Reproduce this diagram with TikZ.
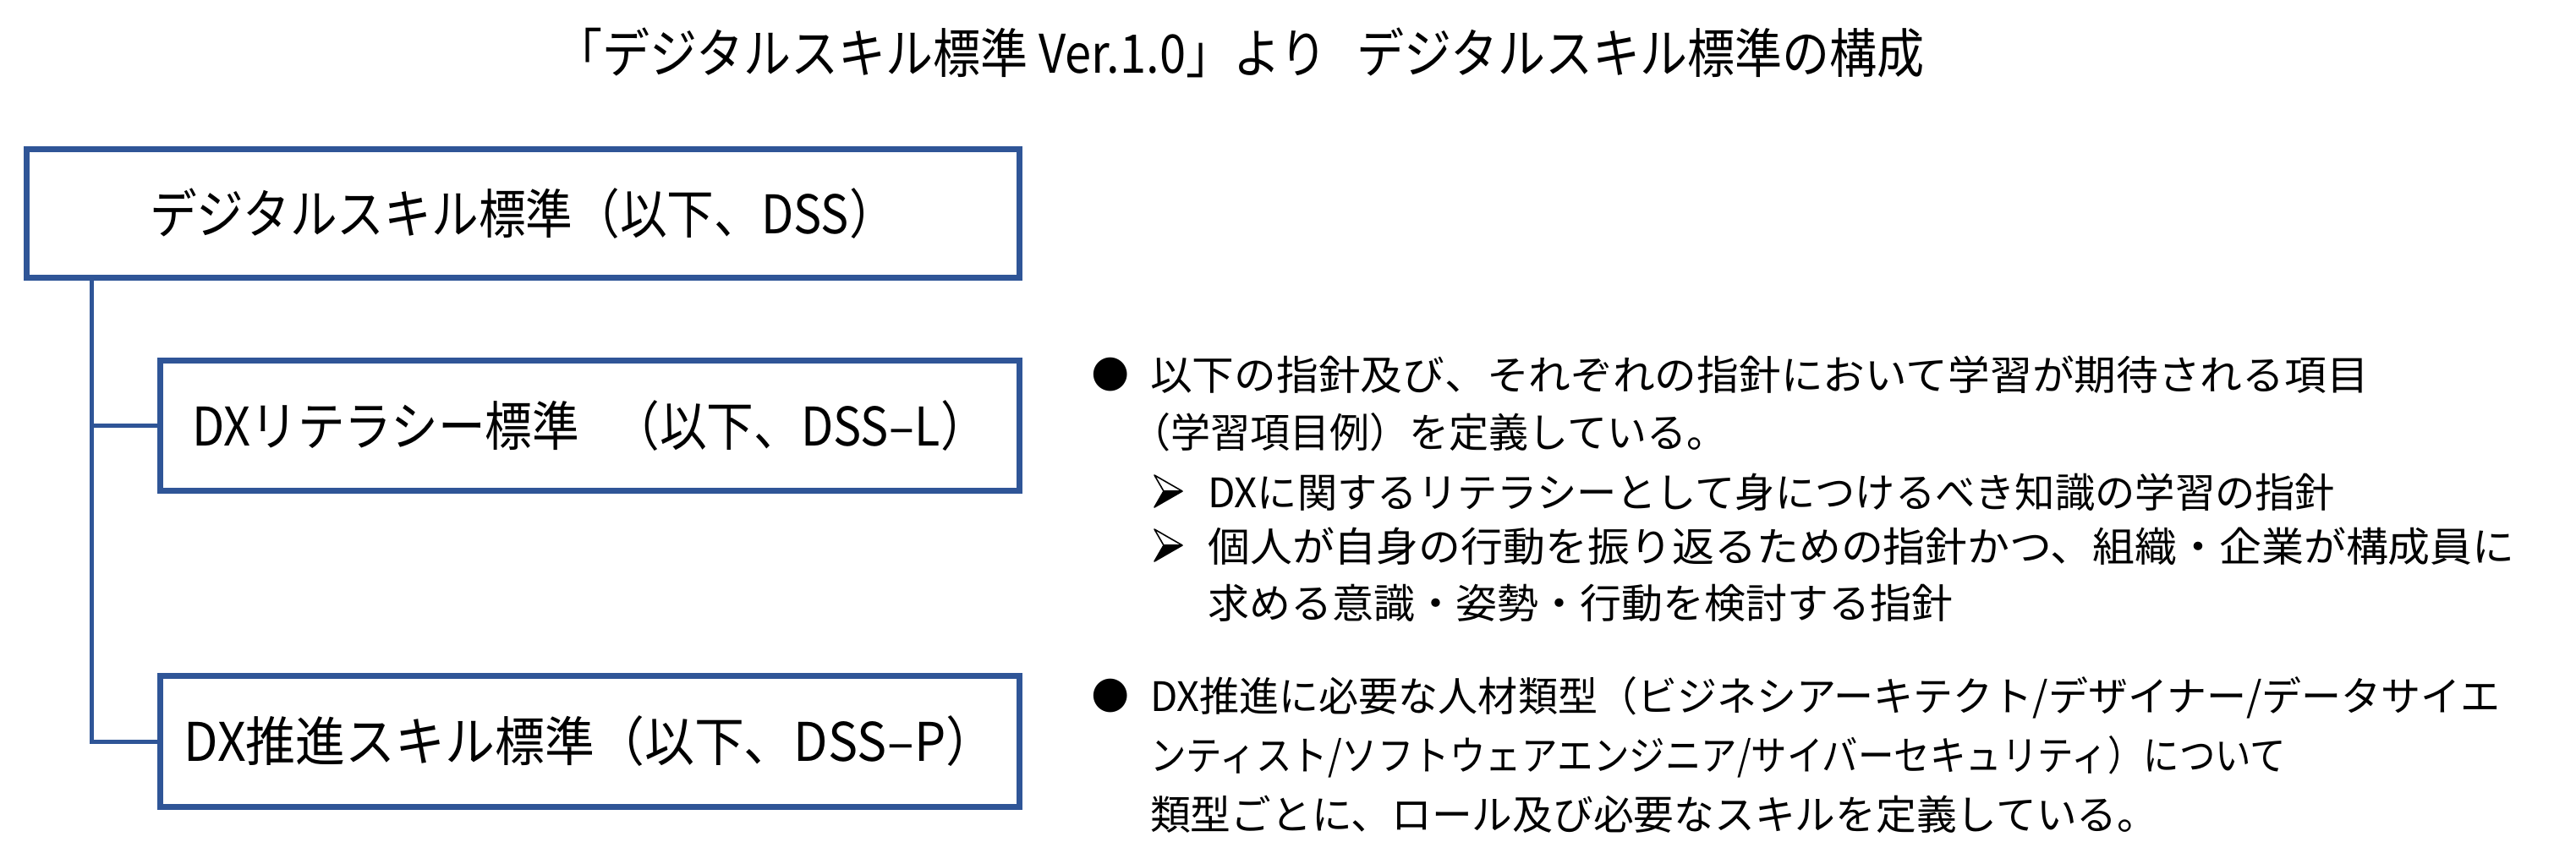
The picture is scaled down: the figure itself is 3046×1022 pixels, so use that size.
\documentclass[tikz,border=0pt]{standalone}
\usepackage{fontspec}
\usepackage{graphicx}
\setmainfont{Noto Sans CJK JP}
\newfontfamily\jpfont{Noto Sans CJK JP}
\newfontfamily\uifont[FakeStretch=0.85]{Noto Sans CJK JP}
\newfontfamily\titlefont[FakeStretch=0.89]{Noto Sans CJK JP}
\newfontfamily\symfont{DejaVu Sans}
\definecolor{boxblue}{HTML}{2F5597}
\tikzset{
  stdbox/.style={draw=boxblue, line width=7pt, fill=white, rectangle, inner sep=0pt,
    font=\uifont\fontsize{63}{70}\selectfont},
  conn/.style={draw=boxblue, line width=5pt},
  titletext/.style={font=\titlefont\fontsize{63}{70}\selectfont, inner sep=0pt},
  bodyline/.style={font=\jpfont\fontsize{48}{60}\selectfont, inner sep=0pt, anchor=base west},
  bulletmark/.style={font=\symfont\fontsize{52}{60}\selectfont, inner sep=0pt},
  subarrow/.pic={
    \filldraw[fill=white, draw=black, line width=1.6pt, line join=round]
      (0,-38) -- (33,-19) -- (11,-19) -- cycle;
    \fill[black] (11,-19) -- (33,-19) -- (0,0) -- cycle;
    \draw[black, line width=1.6pt, line join=round] (11,-19) -- (0,0) -- (33,-19);
  }
}
\begin{document}
\begin{tikzpicture}[x=1pt,y=-1pt]
\useasboundingbox (0,0) rectangle (3046,1022);
\fill[white] (0,0) rectangle (3046,1022);

% title
\node[titletext] (title) at (1466,62) {「デジタルスキル標準 Ver.1.0」より\hspace{0.55em}デジタルスキル標準の構成};

% boxes
\node[stdbox, minimum width=1174pt, minimum height=152pt] (b1) at (618.5,252.5) {\scalebox{1.04}[1]{デジタルスキル標準（以下、DSS）}};
\node[stdbox, minimum width=1016pt, minimum height=154pt] (b2) at (697.5,503.5) {\scalebox{1.04}[1]{DXリテラシー標準\hspace{0.6em}（以下、DSS–L）}};
\node[stdbox, minimum width=1016pt, minimum height=155pt] (b3) at (697.5,877) {\scalebox{1.1}[1]{DX推進スキル標準（以下、DSS–P）}};

% connectors
\coordinate (spine) at (108,0);
\draw[conn] (b1.south -| spine) |- (b3.west);
\draw[conn] (b1.south -| spine) |- (b2.west);

% right texts, block 1
\node[bulletmark] (bul1) at (1313,443) {●};
\node[bodyline] (t1a) at (1360,461) {\scalebox{1.036}[1]{以下の指針及び、それぞれの指針において学習が期待される項目}};
\node[bodyline] (t1b) at (1337,529) {\scalebox{0.98}[1]{（学習項目例）を定義している。}};
\pic (ar1) at (1365,600) {subarrow};
\node[bodyline] (s1) at (1428,600) {\scalebox{0.985}[1]{DXに関するリテラシーとして身につけるべき知識の学習の指針}};
\pic (ar2) at (1365,664) {subarrow};
\node[bodyline] (s2a) at (1428,664) {\scalebox{1.04}[1]{個人が自身の行動を振り返るための指針かつ、組織・企業が構成員に}};
\node[bodyline] (s2b) at (1428,731) {\scalebox{1.02}[1]{求める意識・姿勢・行動を検討する指針}};

% right texts, block 2
\node[bulletmark] (bul2) at (1313,823) {●};
\node[bodyline] (t2a) at (1360,841) {\scalebox{0.98}[1]{DX推進に必要な人材類型（ビジネシアーキテクト/デザイナー/データサイエ}};
\node[bodyline] (t2b) at (1360,911) {\scalebox{0.885}[1]{ンティスト/ソフトウェアエンジニア/サイバーセキュリティ）について}};
\node[bodyline] (t2c) at (1360,981) {\scalebox{0.995}[1]{類型ごとに、ロール及び必要なスキルを定義している。}};
\end{tikzpicture}
\end{document}
